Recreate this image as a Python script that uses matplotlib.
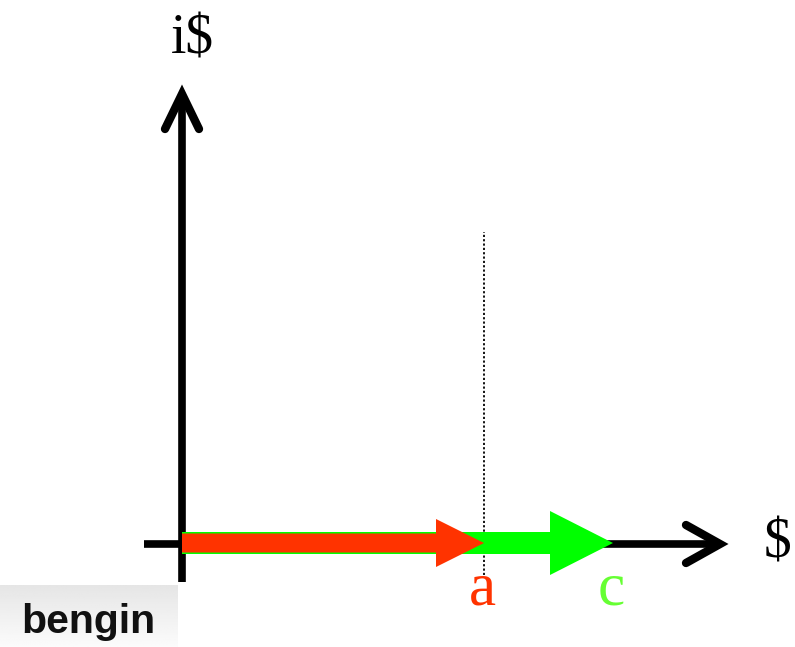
import numpy as np
import matplotlib
matplotlib.use("Agg")
import matplotlib.pyplot as plt
from matplotlib.patches import FancyArrow

# --- data (units: 1 = 100 px of the reference) ---
vector_names = ["a", "c"]
vector_lengths = [3.02, 4.31]
vector_colors = ["#ff3300", "#00ff00"]
label_colors = ["#ff3300", "#66ff33"]
axis_labels = ["$", "i$"]
marker_x = 3.02
button_text = "bengin"

W, H = 795, 647
fig = plt.figure(figsize=(W / 100, H / 100), dpi=100)
ax = fig.add_axes([0, 0, 1, 1])
ax.axis("off")

serif = ["Liberation Serif", "DejaVu Serif"]

# axes with arrow heads
ax.plot([-0.38, 5.3], [0, 0], color="black", lw=5.5, solid_capstyle="butt", zorder=1)
ax.plot([5.04, 5.38, 5.04], [0.19, 0.0, -0.19], color="black", lw=6,
        solid_capstyle="round", solid_joinstyle="miter", zorder=1)
ax.plot([0, 0], [-0.38, 4.42], color="black", lw=5.5, solid_capstyle="butt", zorder=1)
ax.plot([-0.17, 0.0, 0.17], [4.15, 4.50, 4.15], color="black", lw=6,
        solid_capstyle="round", solid_joinstyle="miter", zorder=1)

# dotted marker line
ax.plot([marker_x, marker_x], [-0.31, 3.12], color="black", lw=1.3,
        linestyle=(0, (1.2, 1.2)), zorder=2)

# vectors: green (c) below, red (a) on top
specs = {
    "c": dict(width=0.22, head_width=0.64, head_length=0.63, y=0.01),
    "a": dict(width=0.19, head_width=0.48, head_length=0.48, y=0.01),
}
for name, length, col in sorted(zip(vector_names, vector_lengths, vector_colors),
                                key=lambda t: -t[1]):
    s = specs[name]
    arr = FancyArrow(0.0, s["y"], length, 0.0, width=s["width"],
                     head_width=s["head_width"], head_length=s["head_length"],
                     length_includes_head=True, color=col, lw=0, zorder=3)
    ax.add_patch(arr)

# labels of vectors
for name, length, col in zip(vector_names, vector_lengths, label_colors):
    ax.text(length - 0.02, -0.46, name, color=col, fontsize=44, family=serif,
            ha="center", va="center", zorder=4)

# axis labels
ax.text(5.96, 0.0, axis_labels[0], fontsize=40, family=serif,
        ha="center", va="center")
ax.text(0.10, 5.05, axis_labels[1], fontsize=40, family=serif,
        ha="center", va="center")

# "bengin" button with vertical gray gradient
grad = np.linspace(0.90, 0.985, 50).reshape(-1, 1)
x0, x1 = -1.82, -0.04
y0, y1 = -1.03, -0.41
ax.imshow(grad, extent=(x0, x1, y0, y1), cmap="gray", vmin=0, vmax=1,
          aspect="auto", origin="upper", zorder=0)
ax.text(-1.61, -0.89, button_text, fontsize=29.5,
        fontweight="bold", family=["Liberation Sans", "DejaVu Sans"],
        ha="left", va="baseline", color="#111111", zorder=5)
ax.set_xlim(-1.82, 6.13)
ax.set_ylim(-1.03, 5.44)

fig.savefig("out.png", dpi=100)
